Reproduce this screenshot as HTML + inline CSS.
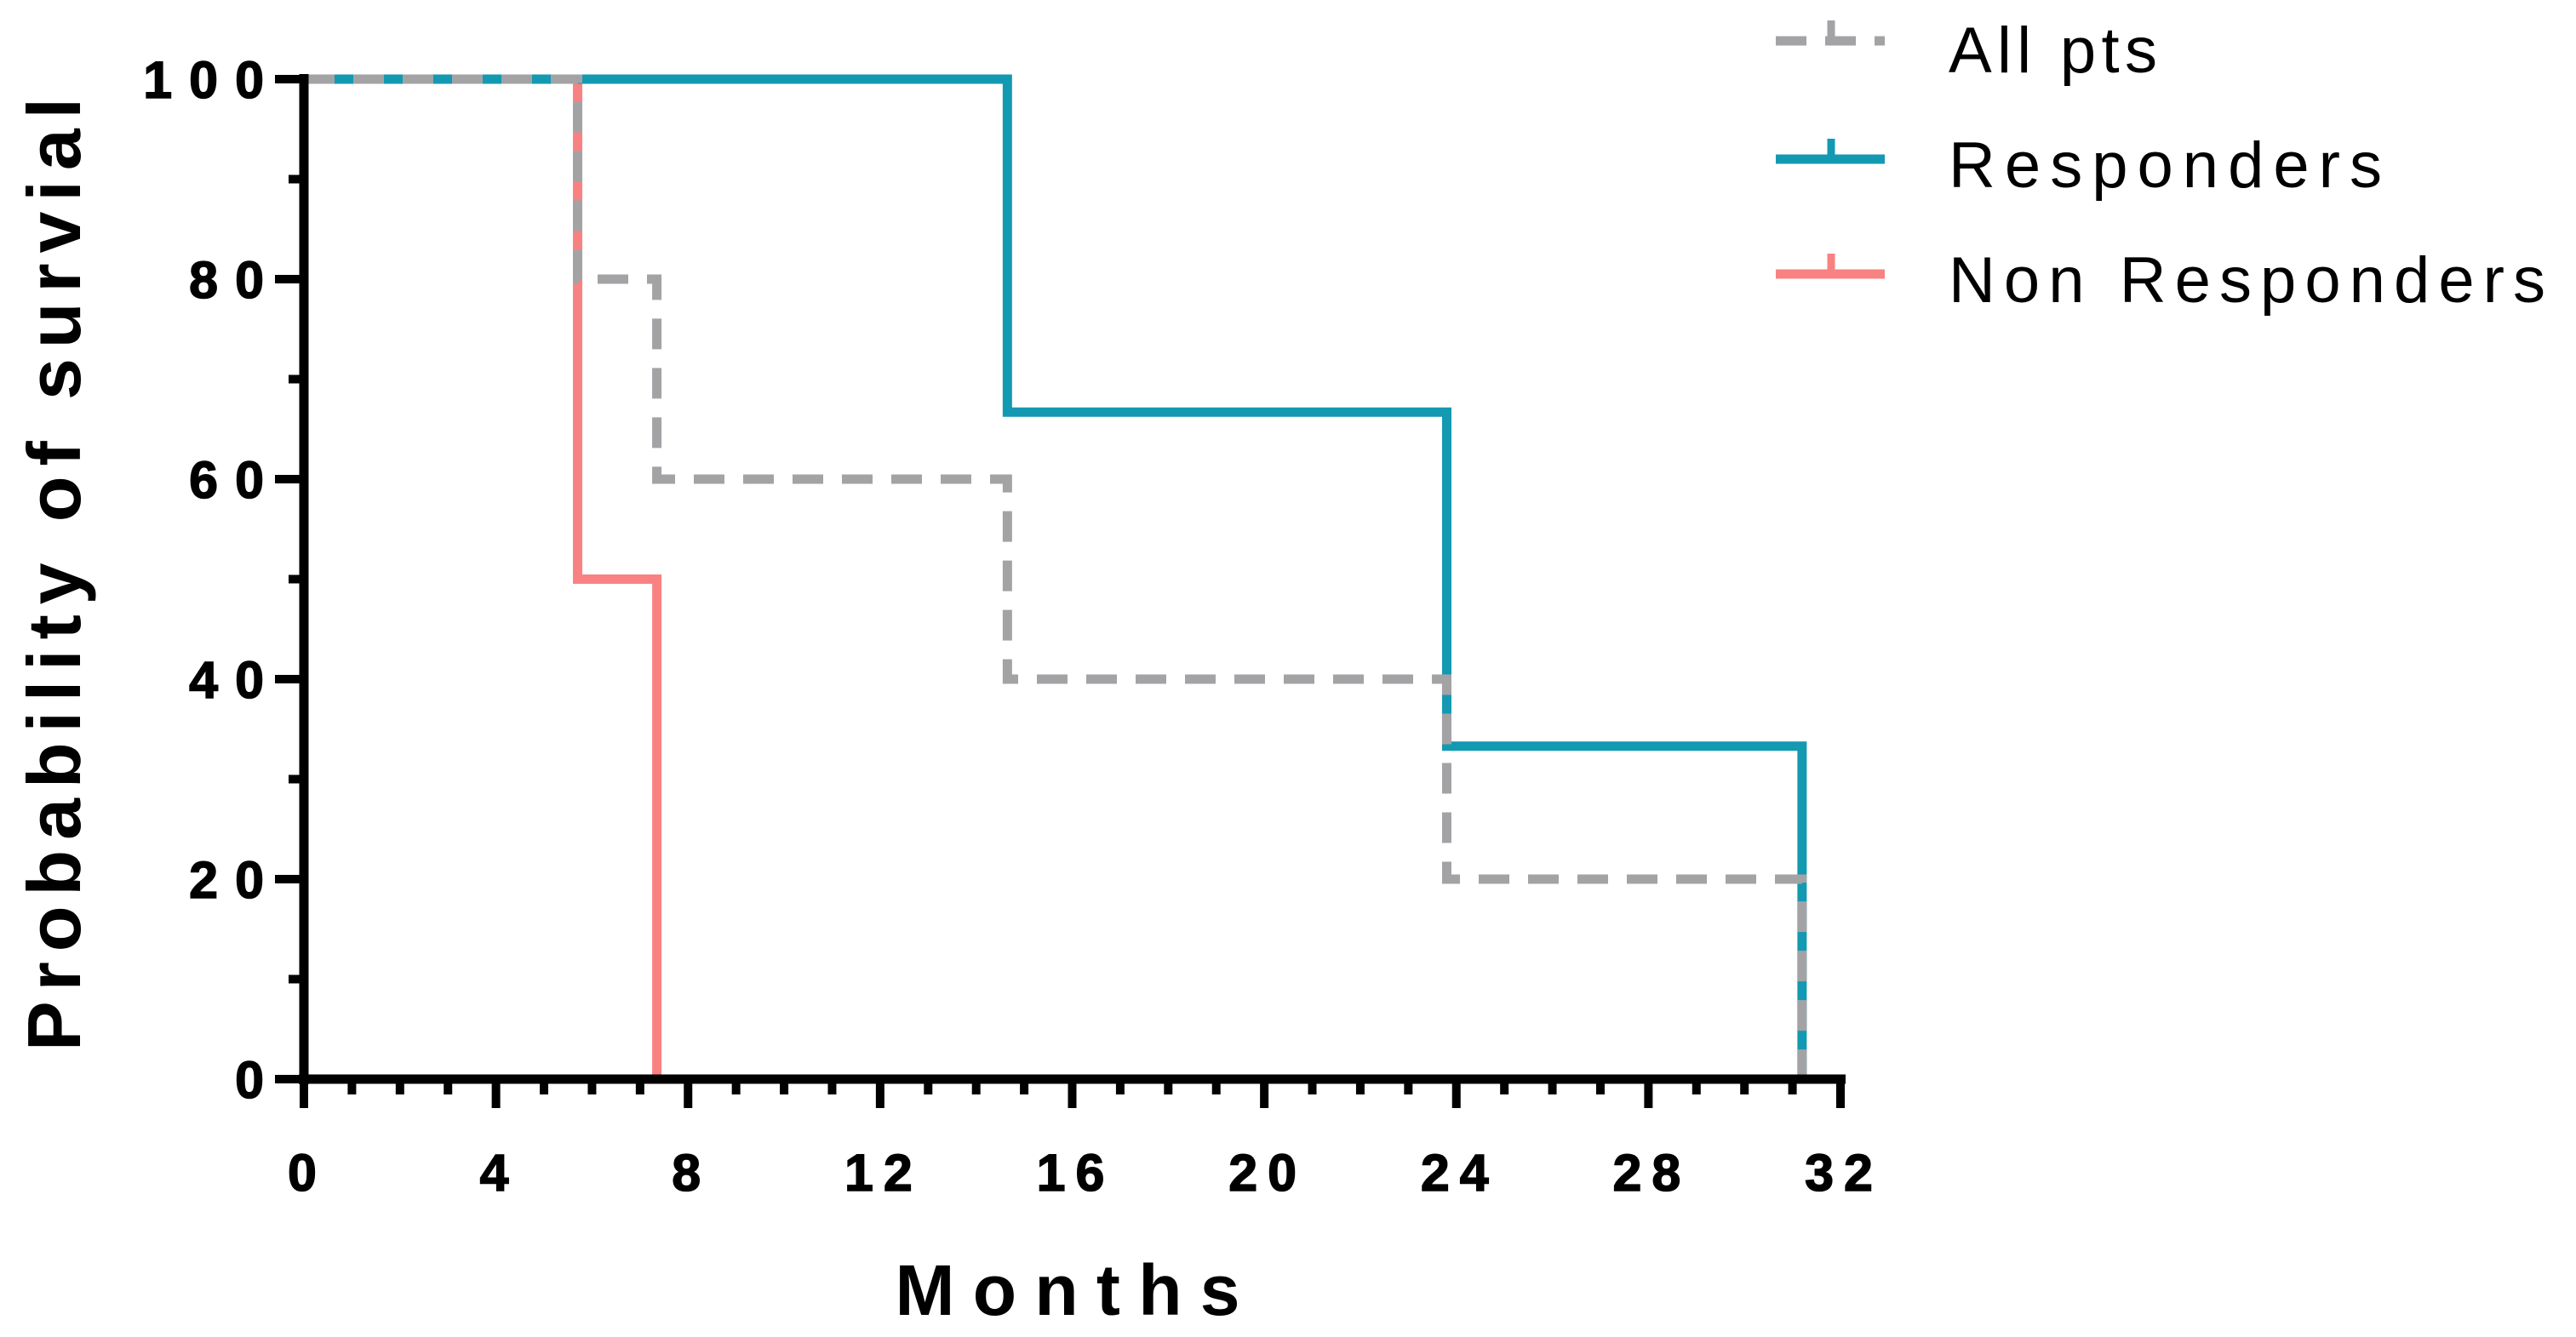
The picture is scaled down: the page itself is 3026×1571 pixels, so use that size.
<!DOCTYPE html>
<html><head><meta charset="utf-8"><style>
html,body{margin:0;padding:0;background:#fff;}
svg{display:block;}
text{font-family:"Liberation Sans",Arial,sans-serif;}
</style></head><body>
<svg id="chart" width="3026" height="1571" viewBox="0 0 3026 1571" xmlns="http://www.w3.org/2000/svg">
<g id="plot"></g>
<g id="axes"></g>
<text x="0" y="0" transform="translate(94,675) rotate(-90)" text-anchor="middle" font-size="88" font-weight="bold" textLength="1120" lengthAdjust="spacing">Probability of survial</text>
<text x="1254" y="1545" text-anchor="middle" font-size="84" font-weight="bold" textLength="405" lengthAdjust="spacing">Months</text>
<g>
  <g>
    <line x1="2086" y1="48" x2="2214" y2="48" stroke="#a3a3a6" stroke-width="11" stroke-dasharray="36 22"/>
    <line x1="2151" y1="48" x2="2151" y2="24" stroke="#a3a3a6" stroke-width="9"/>
    <text x="2289" y="85" font-size="76" textLength="245" lengthAdjust="spacing">All pts</text>
  </g>
  <g>
    <line x1="2086" y1="187" x2="2214" y2="187" stroke="#1399b2" stroke-width="11"/>
    <line x1="2151" y1="187" x2="2151" y2="163" stroke="#1399b2" stroke-width="9"/>
    <text x="2289" y="220" font-size="76" textLength="509" lengthAdjust="spacing">Responders</text>
  </g>
  <g>
    <line x1="2086" y1="322" x2="2214" y2="322" stroke="#f88282" stroke-width="11"/>
    <line x1="2151" y1="322" x2="2151" y2="298" stroke="#f88282" stroke-width="9"/>
    <text x="2289" y="355" font-size="76" textLength="701" lengthAdjust="spacing">Non Responders</text>
  </g>
</g>
</svg>
<script>
const xTicks = [0,4,8,12,16,20,24,28,32];
const yTicks = [0,20,40,60,80,100];
const respTimes = [0,14.65,23.8,31.2];
const respSurv = [100,66.7,33.3,0];
const nonTimes = [0,5.7,7.35];
const nonSurv = [100,50,0];
const allTimes = [0,5.7,7.35,14.65,23.8,31.2];
const allSurv = [100,80,60,40,20,0];

const NS='http://www.w3.org/2000/svg';
const X0=357,X1=2162,Y0=1268,Y1=93;
const xs=v=>X0+(v-0)/(32-0)*(X1-X0);
const ys=v=>Y0-(v-0)/(100-0)*(Y0-Y1);
function mk(tag,attrs,parent){const e=document.createElementNS(NS,tag);for(const k in attrs)e.setAttribute(k,attrs[k]);parent.appendChild(e);return e;}
const plot=document.getElementById('plot');
const axes=document.getElementById('axes');

function stepPath(t,s){
  let d='M'+xs(t[0])+','+ys(s[0]);
  for(let i=1;i<t.length;i++){d+=' H'+xs(t[i])+' V'+ys(s[i]);}
  return d;
}
const pn=mk('path',{d:stepPath(nonTimes,nonSurv),fill:'none',stroke:'#f88282','stroke-width':11},plot);


const pr=mk('path',{d:stepPath(respTimes,respSurv),fill:'none',stroke:'#1399b2','stroke-width':11},plot);


const pa=mk('path',{d:stepPath(allTimes,allSurv),fill:'none',stroke:'#a3a3a6','stroke-width':11,'stroke-dasharray':'36 22'},plot);



const ya=mk('line',{x1:X0,y1:Y1-6,x2:X0,y2:Y0+6,stroke:'#000','stroke-width':11},axes);


const xa=mk('line',{x1:X0-6,y1:Y0,x2:X1+6,y2:Y0,stroke:'#000','stroke-width':11},axes);



for(let v=0;v<=100;v+=10){
  const major=yTicks.includes(v);
  mk('line',{x1:major?323:339,y1:ys(v),x2:X0,y2:ys(v),stroke:'#000','stroke-width':10},axes);
}
yTicks.forEach(v=>{
  const t=mk('text',{x:330,y:ys(v)+22,'text-anchor':'end','font-size':61,'font-weight':'bold','letter-spacing':20,stroke:'#000','stroke-width':1.5},axes);
  t.textContent=v;
  
  
});
for(let v=0;v<=32;v+=1){
  const major=xTicks.includes(v);
  mk('line',{x1:xs(v),y1:Y0,x2:xs(v),y2:major?1302:1286,stroke:'#000','stroke-width':10},axes);
}
xTicks.forEach(v=>{
  const t=mk('text',{x:xs(v)+4,y:1399,'text-anchor':'middle','font-size':61,'font-weight':'bold','letter-spacing':12,stroke:'#000','stroke-width':1.5},axes);
  t.textContent=v;
  
  
});
</script>
</body></html>
